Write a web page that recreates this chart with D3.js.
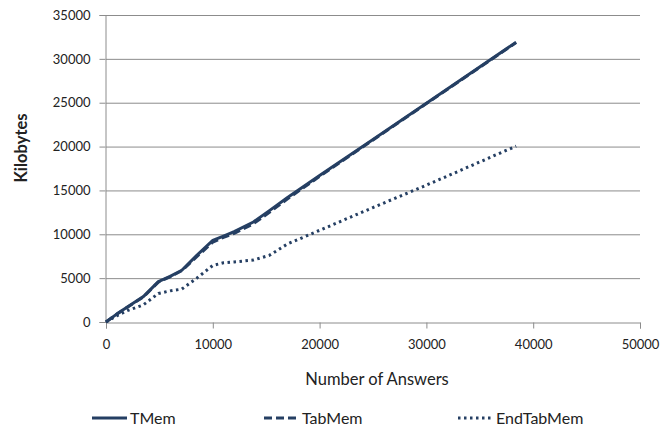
<!DOCTYPE html>
<html><head><meta charset="utf-8">
<script src="https://cdn.jsdelivr.net/npm/d3@7"></script>
<style>body{margin:0;background:#fff}svg{display:block}text{font-family:Lato,"Open Sans",sans-serif;fill:#222}</style>
</head><body><svg id="c" width="662" height="431"></svg>
<script>
const xTicks = [0,10000,20000,30000,40000,50000];
const yTicks = [0,5000,10000,15000,20000,25000,30000,35000];
const answers   = [0, 1000, 2000, 3500, 4900, 6000, 7100, 8500, 10000, 11000, 12000, 13800, 15300, 17000, 20000, 25000, 30000, 38400];
const tMem      = [0, 900, 1700, 2900, 4600, 5200, 5900, 7600, 9300, 9800, 10300, 11400, 12700, 14200, 16700, 20800, 24950, 31900];
const tabMem    = [0, 880, 1680, 2850, 4550, 5150, 5850, 7450, 9100, 9650, 10100, 11200, 12500, 14050, 16600, 20750, 24900, 31850];
const endTabMem = [0, 700, 1300, 1950, 3250, 3550, 3750, 5000, 6450, 6750, 6850, 7060, 7600, 8900, 10450, 13050, 15600, 20050];
const seriesNames = ["TMem","TabMem","EndTabMem"];

const svg = d3.select("#c");
const x = d3.scaleLinear().domain([0,50000]).range([106,640]);
const y = d3.scaleLinear().domain([0,35000]).range([322,15]);
const grid = "#8c8c8c";

svg.append("g").selectAll("line").data(yTicks.slice(1)).join("line")
  .attr("x1",106).attr("x2",640).attr("y1",d=>y(d)+0.5).attr("y2",d=>y(d)+0.5)
  .attr("stroke",grid).attr("stroke-width",1);

const xa = svg.append("g").attr("transform","translate(0,322.5)")
  .call(d3.axisBottom(x).tickValues(xTicks).tickFormat(d3.format("d")).tickSize(6).tickPadding(11));
const ya = svg.append("g").attr("transform","translate(105.5,0)")
  .call(d3.axisLeft(y).tickValues(yTicks).tickFormat(d3.format("d")).tickSize(6).tickPadding(9));
[xa,ya].forEach(a=>{
  a.selectAll("path,line").attr("stroke",grid);
  a.selectAll("text").style("font-size","13px").attr("fill","#222");
});

const line = d3.line().x((d,i)=>x(answers[i])).y(d=>y(d));
const color = "#253f63";
const styles = [
  {data:tMem, dash:null, w:3},
  {data:tabMem, dash:"8,4", w:3},
  {data:endTabMem, dash:"2.5,3.5", w:3}
];
styles.slice().reverse().forEach(s=>{
  svg.append("path").datum(s.data).attr("d",line).attr("fill","none")
    .attr("stroke",color).attr("stroke-width",s.w).attr("stroke-dasharray",s.dash)
    .attr("stroke-linejoin","round");
});

svg.append("text").attr("x",377).attr("y",385).attr("text-anchor","middle")
  .style("font-size","16.5px").text("Number of Answers");
svg.append("text").attr("transform","translate(27,148) rotate(-90)").attr("text-anchor","middle")
  .style("font-size","16.5px").style("font-weight","bold").text("Kilobytes");

const legX = [92,264,458];
seriesNames.forEach((n,i)=>{
  const g = svg.append("g");
  g.append("line").attr("x1",legX[i]).attr("x2",legX[i]+35).attr("y1",418).attr("y2",418)
    .attr("stroke",color).attr("stroke-width",3).attr("stroke-dasharray",styles[i].dash);
  g.append("text").attr("x",legX[i]+38).attr("y",424).style("font-size","16px").text(n);
});
</script></body></html>
